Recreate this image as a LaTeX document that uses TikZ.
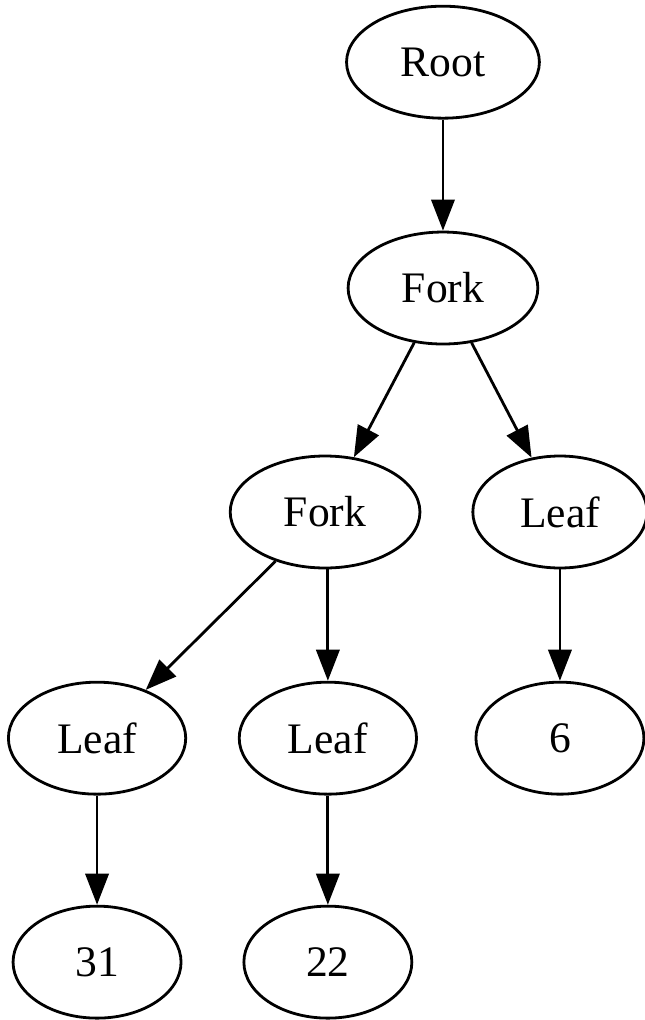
\documentclass[tikz,border=0pt]{standalone}
\usepackage{fontspec}
\setmainfont{Liberation Serif}
\usetikzlibrary{arrows.meta, shapes.geometric}

\begin{document}
\begin{tikzpicture}[x=1pt, y=1pt, font=\fontsize{14}{16}\selectfont,
  every node/.style={ellipse, draw, line width=0.9pt, inner sep=0pt, minimum height=36pt},
  link/.style={-{Triangle[length=10pt, width=7.5pt]}, line width=0.9pt}]
  \useasboundingbox (0,0) rectangle (207.3,327.9);

  % --- Top two levels ---
  \node[minimum width=62pt] (root)  at (142.4, 307.9) {Root};
  \node[minimum width=61pt] (fork1) at (142.4, 235.3) {Fork};

  % --- Third level ---
  \node[minimum width=61pt] (fork2) at (104.5, 163.3) {Fork};
  \node[minimum width=56pt] (leafR) at (180.0, 163.3) {Leaf};

  % --- Fourth level ---
  \node[minimum width=57pt] (leafL) at (31.2, 90.6) {Leaf};
  \node[minimum width=57pt] (leafM) at (105.4, 90.6) {Leaf};
  \node[minimum width=54pt] (n6)    at (180.0, 90.6) {6};

  % --- Bottom values ---
  \node[minimum width=54pt] (n31) at (31.2, 18.6) {31};
  \node[minimum width=54pt] (n22) at (105.4, 18.6) {22};

  \draw[link] (root) -- (fork1);
  \draw[link] (fork1) -- (fork2);
  \draw[link] (fork1) -- (leafR);
  \draw[link] (fork2) -- (leafL);
  \draw[link] (fork2.south -| leafM) -- (leafM);
  \draw[link] (leafR) -- (n6);
  \draw[link] (leafL) -- (n31);
  \draw[link] (leafM) -- (n22);
\end{tikzpicture}
\end{document}
